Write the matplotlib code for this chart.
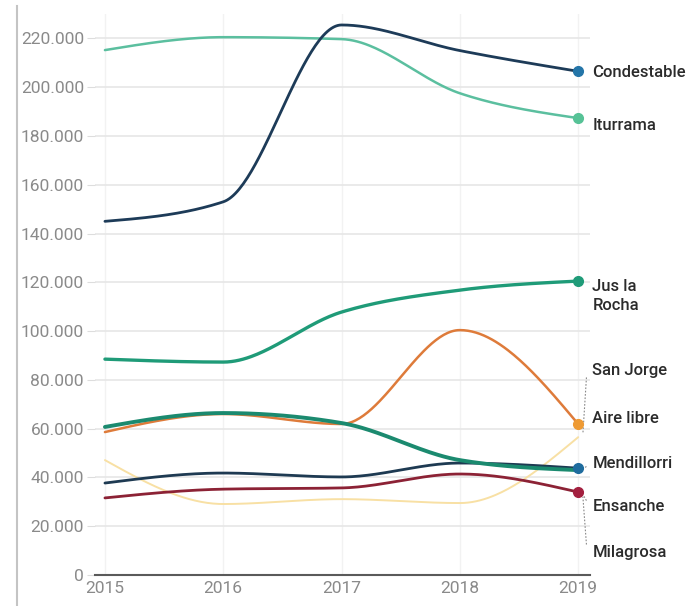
import numpy as np
import matplotlib.pyplot as plt
from matplotlib.lines import Line2D
from matplotlib.ticker import FuncFormatter

plt.rcParams['font.family'] = ['Roboto', 'DejaVu Sans']

years = [2015, 2016, 2017, 2018, 2019]

condestable = [145000, 153000, 225500, 215000, 206500]
iturrama = [215200, 220500, 219700, 197500, 187300]
jus_la_rocha = [88500, 87300, 107800, 116800, 120500]
aire_libre = [58600, 66000, 61900, 100400, 61900]
san_jorge = [47100, 29100, 31100, 29500, 56500]
milagrosa = [60700, 66400, 62300, 47100, 43000]
mendillorri = [37700, 41800, 40200, 45900, 43800]
ensanche = [31600, 35200, 35700, 41400, 34000]

names = ["Condestable", "Iturrama", "Jus la\nRocha", "San Jorge", "Aire libre",
         "Mendillorri", "Ensanche", "Milagrosa"]
series = [condestable, iturrama, jus_la_rocha, san_jorge, aire_libre,
          mendillorri, ensanche, milagrosa]
line_colors = ["#1d3b58", "#5bbf9f", "#1f9b78", "#f8e0a4", "#de7b3a",
               "#1e3a52", "#8c2235", "#1b8a6f"]
dot_colors = ["#2475a8", "#56c296", "#1f9b78", "#f8e0a4", "#ee9a33",
              "#1f6c9e", "#a3203f", "#1b8a6f"]
widths = [2.0, 1.8, 2.4, 1.4, 1.8, 2.0, 2.0, 2.8]
show_dot = [True, True, True, False, True, True, True, False]

# where the end labels sit (layout)
label_y = [206000, 184400, 114300, 84000, 64300, 45900, 27900, 9400]
leaders = {"San Jorge": (81000, 58000), "Mendillorri": (44500, 43500),
           "Ensanche": (30500, 33000), "Milagrosa": (12500, 32000)}


def monotone(xs, ys, n=60):
    # d3 curveMonotoneX style smoothing for drawing
    x = np.asarray(xs, float)
    y = np.asarray(ys, float)
    h = np.diff(x)
    s = np.diff(y) / h
    m = np.zeros_like(y)
    for i in range(1, len(y) - 1):
        s0, s1 = s[i - 1], s[i]
        p = (s0 * h[i] + s1 * h[i - 1]) / (h[i - 1] + h[i])
        m[i] = (np.sign(s0) + np.sign(s1)) * min(abs(s0), abs(s1), 0.5 * abs(p))
    m[0] = (3 * s[0] - m[1]) / 2
    m[-1] = (3 * s[-1] - m[-2]) / 2
    px, py = [], []
    for i in range(len(x) - 1):
        t = np.linspace(0, 1, n)
        h00 = 2 * t**3 - 3 * t**2 + 1
        h10 = t**3 - 2 * t**2 + t
        h01 = -2 * t**3 + 3 * t**2
        h11 = t**3 - t**2
        px.append(x[i] + t * h[i])
        py.append(h00 * y[i] + h10 * h[i] * m[i] + h01 * y[i + 1] + h11 * h[i] * m[i + 1])
    return np.concatenate(px), np.concatenate(py)


fig = plt.figure(figsize=(6.96, 6.06), dpi=100)
ax = fig.add_axes([95 / 696, 31 / 606, 495 / 696, 561 / 606])

order = [3, 1, 0, 2, 4, 5, 6, 7]
for i in order:
    sx, sy = monotone(years, series[i])
    ax.plot(sx, sy, color=line_colors[i], lw=widths[i], solid_capstyle='round', zorder=3)
    if show_dot[i]:
        ax.plot(years[-1], series[i][-1], 'o', color=dot_colors[i], ms=7, zorder=5)

for i, name in enumerate(names):
    ax.text(2019.12, label_y[i], name, fontsize=12, fontweight='medium', color='#2b2b2b',
            va='center', ha='left', clip_on=False, linespacing=1.35)
    if name in leaders:
        y0, y1 = leaders[name]
        ax.plot([2019.07, 2019.04], [y0, y1], color='#888888', lw=0.8, ls=(0, (1.5, 1.5)),
                clip_on=False, zorder=4)

ax.set_xlim(2014.916, 2019.10)
ax.set_ylim(0, 230000)
ax.set_xticks(years)
ax.set_yticks(np.arange(0, 220001, 20000))
ax.yaxis.set_major_formatter(FuncFormatter(lambda v, p: f"{int(v):,}".replace(",", ".")))
ax.tick_params(axis='y', length=6, color='#dddddd', labelsize=12.5, labelcolor='#8a8a8a', pad=2)
ax.tick_params(axis='x', length=0, labelsize=12.5, labelcolor='#8a8a8a', pad=4)
ax.grid(axis='y', color='#e6e6e6', lw=1.2)
ax.grid(axis='x', color='#f2f2f2', lw=1.0)
ax.set_axisbelow(True)
for side in ['top', 'right', 'left']:
    ax.spines[side].set_visible(False)
ax.spines['bottom'].set_color('#5a5a5a')
ax.spines['bottom'].set_linewidth(1.5)
ax.spines['bottom'].set_zorder(2)

fig.add_artist(Line2D([17 / 696, 17 / 696], [0.0, 0.99], color='#c4c4c4', lw=1.5))

fig.savefig("out.png", dpi=100)
